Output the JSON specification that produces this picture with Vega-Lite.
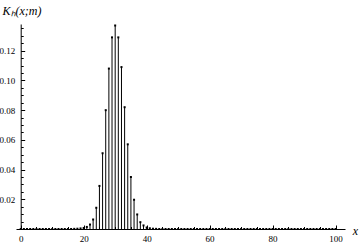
{
  "$schema": "https://vega.github.io/schema/vega-lite/v6.json",
  "width": 329,
  "height": 205,
  "autosize": {"type": "none"},
  "padding": {"left": 16, "top": 24, "right": 15, "bottom": 15},
  "background": "white",
  "config": {
    "view": {"stroke": null},
    "axis": {
      "domainColor": "black",
      "domainWidth": 1,
      "tickColor": "black",
      "tickWidth": 1,
      "grid": false,
      "labelFont": "Liberation Serif",
      "labelFontSize": 9,
      "labelColor": "black",
      "titleFont": "Liberation Serif",
      "titleFontStyle": "italic",
      "titleFontWeight": "normal",
      "titleColor": "black",
      "labelOverlap": false,
      "labelFlush": false
    }
  },
  "data": {
    "values": [
      {"x": 0, "k": 0}, {"x": 1, "k": 0}, {"x": 2, "k": 0}, {"x": 3, "k": 0}, {"x": 4, "k": 0},
      {"x": 5, "k": 0}, {"x": 6, "k": 0}, {"x": 7, "k": 0}, {"x": 8, "k": 0}, {"x": 9, "k": 0},
      {"x": 10, "k": 0}, {"x": 11, "k": 0}, {"x": 12, "k": 0}, {"x": 13, "k": 0}, {"x": 14, "k": 0},
      {"x": 15, "k": 0}, {"x": 16, "k": 0}, {"x": 17, "k": 0.0001}, {"x": 18, "k": 0.0002}, {"x": 19, "k": 0.0004},
      {"x": 20, "k": 0.0007}, {"x": 21, "k": 0.0014}, {"x": 22, "k": 0.003}, {"x": 23, "k": 0.0064}, {"x": 24, "k": 0.0143},
      {"x": 25, "k": 0.029}, {"x": 26, "k": 0.051}, {"x": 27, "k": 0.080}, {"x": 28, "k": 0.108}, {"x": 29, "k": 0.129},
      {"x": 30, "k": 0.137}, {"x": 31, "k": 0.129}, {"x": 32, "k": 0.109}, {"x": 33, "k": 0.082}, {"x": 34, "k": 0.057},
      {"x": 35, "k": 0.035}, {"x": 36, "k": 0.0197}, {"x": 37, "k": 0.0098}, {"x": 38, "k": 0.0046}, {"x": 39, "k": 0.0024},
      {"x": 40, "k": 0.001}, {"x": 41, "k": 0.0005}, {"x": 42, "k": 0.0002}, {"x": 43, "k": 0.0001}, {"x": 44, "k": 0},
      {"x": 45, "k": 0}, {"x": 46, "k": 0}, {"x": 47, "k": 0}, {"x": 48, "k": 0}, {"x": 49, "k": 0},
      {"x": 50, "k": 0}, {"x": 51, "k": 0}, {"x": 52, "k": 0}, {"x": 53, "k": 0}, {"x": 54, "k": 0},
      {"x": 55, "k": 0}, {"x": 56, "k": 0}, {"x": 57, "k": 0}, {"x": 58, "k": 0}, {"x": 59, "k": 0},
      {"x": 60, "k": 0}, {"x": 61, "k": 0}, {"x": 62, "k": 0}, {"x": 63, "k": 0}, {"x": 64, "k": 0},
      {"x": 65, "k": 0}, {"x": 66, "k": 0}, {"x": 67, "k": 0}, {"x": 68, "k": 0}, {"x": 69, "k": 0},
      {"x": 70, "k": 0}, {"x": 71, "k": 0}, {"x": 72, "k": 0}, {"x": 73, "k": 0}, {"x": 74, "k": 0},
      {"x": 75, "k": 0}, {"x": 76, "k": 0}, {"x": 77, "k": 0}, {"x": 78, "k": 0}, {"x": 79, "k": 0},
      {"x": 80, "k": 0}, {"x": 81, "k": 0}, {"x": 82, "k": 0}, {"x": 83, "k": 0}, {"x": 84, "k": 0},
      {"x": 85, "k": 0}, {"x": 86, "k": 0}, {"x": 87, "k": 0}, {"x": 88, "k": 0}, {"x": 89, "k": 0},
      {"x": 90, "k": 0}, {"x": 91, "k": 0}, {"x": 92, "k": 0}, {"x": 93, "k": 0}, {"x": 94, "k": 0},
      {"x": 95, "k": 0}, {"x": 96, "k": 0}, {"x": 97, "k": 0}, {"x": 98, "k": 0}, {"x": 99, "k": 0},
      {"x": 100, "k": 0}
    ]
  },
  "layer": [
    {
      "mark": {"type": "rule", "color": "black", "strokeWidth": 1},
      "encoding": {
        "x": {
          "field": "x",
          "type": "quantitative",
          "scale": {"domain": [-1.5, 103], "nice": false, "zero": false},
          "axis": {
            "orient": "bottom",
            "values": [0, 20, 40, 60, 80, 100],
            "tickSize": -4,
            "labelPadding": 9,
            "title": "x",
            "titleFontSize": 12,
            "titleAngle": 0,
            "titleAlign": "center",
            "titleBaseline": "middle",
            "titleX": 339,
            "titleY": 1
          }
        },
        "y": {
          "field": "k",
          "type": "quantitative",
          "scale": {"domain": [0, 0.138], "nice": false},
          "axis": {
            "orient": "left",
            "values": [0.02, 0.04, 0.06, 0.08, 0.1, 0.12],
            "format": ".2f",
            "tickSize": -4,
            "labelPadding": 10,
            "offset": -4.7,
            "title": "Kₕ(x;m)",
            "titleFontSize": 12,
            "titleAngle": 0,
            "titleAlign": "left",
            "titleBaseline": "middle",
            "titleX": -18.7,
            "titleY": -14
          }
        },
        "y2": {"datum": 0}
      }
    },
    {
      "mark": {"type": "point", "shape": "square", "filled": true, "size": 4, "color": "black", "opacity": 1},
      "encoding": {
        "x": {
          "field": "x",
          "type": "quantitative",
          "axis": {
            "orient": "bottom",
            "values": [5, 10, 15, 25, 30, 35, 45, 50, 55, 65, 70, 75, 85, 90, 95],
            "tickSize": -2.5,
            "labels": false,
            "domain": false,
            "title": null
          }
        },
        "y": {
          "field": "k",
          "type": "quantitative",
          "axis": {
            "orient": "left",
            "values": [0.005, 0.01, 0.015, 0.025, 0.03, 0.035, 0.045, 0.05, 0.055, 0.065, 0.07, 0.075, 0.085, 0.09, 0.095, 0.105, 0.11, 0.115, 0.125, 0.13, 0.135],
            "tickSize": -2.5,
            "offset": -4.7,
            "labels": false,
            "domain": false,
            "title": null
          }
        }
      }
    }
  ],
  "resolve": {"axis": {"x": "independent", "y": "independent"}}
}
